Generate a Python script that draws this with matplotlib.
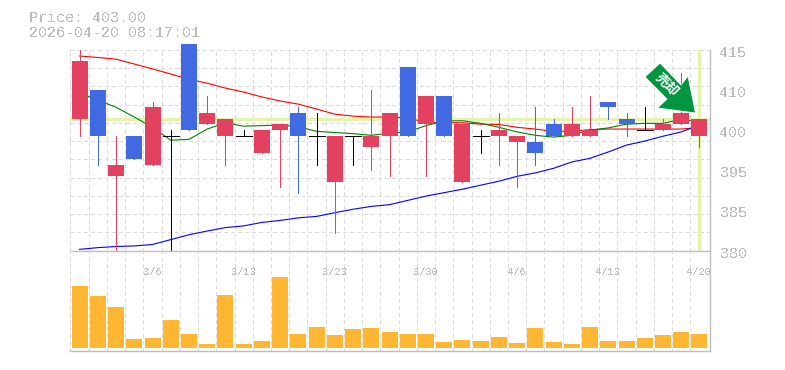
import matplotlib
matplotlib.use("Agg")
import matplotlib.pyplot as plt
from matplotlib.patches import Polygon
from matplotlib.transforms import IdentityTransform, ScaledTranslation

W, H = 785, 370

# candle data
body_top = [413, 408, 395, 400, 405, 400, 416, 404, 403, 400, 401, 402, 404, 400, 400, 400, 400, 404,
            412, 407, 407, 402, 400, 401, 400, 399, 402, 402, 401, 406, 403, 401, 402, 404, 403]
body_bot = [403, 400, 393, 396, 395, 400, 401, 402, 400, 400, 397, 401, 400, 400, 392, 400, 398, 400,
            400, 402, 400, 392, 400, 400, 399, 397, 400, 400, 400, 405, 402, 401, 401, 402, 400]
highs = [415, 408, 400, 400, 406, 401, 416, 407, 403, 401, 401, 402, 405, 404, 400, 400, 408, 404,
         412, 407, 407, 402, 401, 404, 400, 405, 403, 405, 407, 406, 404, 405, 403, 411, 403]
lows = [400, 395, 380, 396, 395, 380, 401, 402, 395, 400, 397, 391, 390, 395, 383, 395, 394, 393,
        400, 393, 400, 392, 397, 395, 391, 395, 400, 400, 400, 403, 400, 401, 401, 402, 398]
kinds = ["r", "b", "r", "b", "r", "k", "b", "r", "r", "k", "r", "r", "b", "k", "r", "k", "r", "r",
         "b", "r", "b", "r", "k", "r", "r", "b", "b", "r", "r", "b", "b", "k", "r", "r", "r"]

ma_red = [413.95, 413.7, 413.4, 412.55, 411.7, 410.8, 409.9, 409.2, 408.35, 407.65, 406.8, 406.1,
          405.55, 404.7, 403.8, 403.45, 403.3, 403.3, 403.1, 402.4, 402.3, 402.3, 402.05, 402.0,
          401.5, 401.2, 400.8, 400.8, 401.1, 401.2, 401.2, 401.2, 401.2, 401.2, 401.5]
ma_green = [407.5, 406.25, 405.0, 403.3, 401.5, 399.25, 399.4, 401.2, 402.3, 401.7, 401.8, 401.9,
            401.6, 400.8, 400.6, 400.4, 400.1, 400.5, 400.7, 401.8, 402.6, 402.65, 402.2, 401.5,
            400.7, 400.1, 399.8, 400.1, 401.0, 401.4, 402.05, 402.2, 402.2, 402.9, 402.4]
ma_blue = [380.2, 380.5, 380.7, 380.8, 381.05, 381.9, 382.75, 383.4, 384.0, 384.3, 384.9, 385.25,
           385.7, 385.95, 386.6, 387.2, 387.7, 388.0, 388.75, 389.5, 390.1, 390.7, 391.4, 392.1,
           392.95, 393.55, 394.35, 395.45, 396.1, 397.2, 398.4, 399.1, 399.95, 400.7, 401.9]

volume = [62, 52, 41, 9, 10, 28, 14, 4, 53, 4, 7, 71, 14, 21, 13, 19, 20, 16, 14, 14, 6, 8, 7, 11, 5,
          20, 6, 4, 21, 7, 7, 10, 13, 16, 14]

price_ticks = [380, 387, 394, 401, 408, 415]
price_labels = ["380", "385", "395", "400", "410", "415"]
date_pos = [4, 9, 14, 19, 24, 29, 34]
date_labels = ["3/6", "3/13", "3/23", "3/30", "4/6", "4/13", "4/20"]
last_price = 403
title_lines = ["Price: 403.00", "2026-04-20 08:17:01"]

colors = {"r": "#e2425f", "b": "#4169e1", "k": "#000000"}
GRID = "#dcdcdc"
AXIS = "#bdbdbd"
TXT = "#bcbcbc"
LIME = "#e4f5ab"
ARROW = "#00963f"
PX = 0.72  # one pixel in points at dpi 100
DASH = (0, (4, 3))

plt.rcParams["font.family"] = ["Liberation Mono", "Noto Sans CJK JP"]
plt.rcParams["text.antialiased"] = False

fig = plt.figure(figsize=(W / 100, H / 100), dpi=100)
left, right = 70 / W, 710 / W
ax = fig.add_axes([left, 1 - 250.5 / H, right - left, 200.5 / H])
vol = fig.add_axes([left, 1 - 350.5 / H, right - left, 100 / H])

xlim = (-0.527, 34.58)
n_grid = 35

for a in (ax, vol):
    a.set_xlim(*xlim)
    for s in a.spines.values():
        s.set_visible(False)
    a.tick_params(length=0)
    a.patch.set_alpha(0)
    for k in range(n_grid):
        a.axvline(k - 0.5, color=GRID, lw=PX, ls=DASH, zorder=1, clip_on=False, antialiased=False)

ax.set_ylim(380, 415)
for k in range(1, 12):
    ax.axhline(380 + k * 35 / 11, color=GRID, lw=PX, ls=DASH, zorder=1, antialiased=False)

# last price cross-hair
ax.axhline(last_price, color=LIME, lw=2.1, zorder=2, antialiased=False)
ax.axvline(34, color=LIME, lw=2.1, zorder=2, antialiased=False)

# moving averages under the candles
xs = list(range(len(ma_red)))
ax.plot(xs, ma_red, color="#ff0000", lw=0.8, zorder=3)
ax.plot(xs, ma_green, color="#008000", lw=0.8, zorder=3)
ax.plot(xs, ma_blue, color="#0000ff", lw=0.8, zorder=3)

for i in range(len(kinds)):
    c = colors[kinds[i]]
    ax.plot([i, i], [lows[i], highs[i]], color=c, lw=PX, zorder=4, clip_on=False, antialiased=False,
            solid_capstyle="butt")
    if kinds[i] == "k":
        ax.plot([i - 0.44, i + 0.44], [body_top[i], body_top[i]], color=c, lw=PX, zorder=4,
                antialiased=False, solid_capstyle="butt")
    else:
        ax.bar(i, body_top[i] - body_bot[i], bottom=body_bot[i], width=0.878, color=c, zorder=5,
               clip_on=False, antialiased=False, linewidth=0)

vol.bar(range(len(volume)), volume, width=0.878, color="#ffb733", zorder=3, antialiased=False,
        linewidth=0)
vol.set_ylim(-2.5, 97.5)

# frame lines
ax.axhline(380, color=AXIS, lw=1, zorder=6, clip_on=False)
vol.axhline(-2.5, color=AXIS, lw=1, zorder=6, clip_on=False)
for a in (ax, vol):
    a.axvline(xlim[1], color=AXIS, lw=1, zorder=6, clip_on=False)

ax.yaxis.tick_right()
ax.set_yticks(price_ticks)
ax.set_yticklabels(price_labels, fontsize=10.8, color=TXT, va="center")
ax.tick_params(axis="y", pad=7)
up = ScaledTranslation(0, -3 / 100, fig.dpi_scale_trans)
for lab in ax.get_yticklabels():
    lab.set_transform(lab.get_transform() + up)
ax.set_xticks([])
vol.set_yticks([])
vol.xaxis.tick_top()
vol.set_xticks(date_pos)
vol.set_xticklabels(date_labels, fontsize=7.6, color=TXT, va="top")
vol.tick_params(axis="x", pad=-12)

fig.text(29 / W, 1 - 18 / H, title_lines[0], fontsize=10.8, color=TXT, va="center", ha="left")
fig.text(29 / W, 1 - 33 / H, title_lines[1], fontsize=10.8, color=TXT, va="center", ha="left")


def px(x, y):
    return (x, H - y)


# green marker arrow, in screen pixels
outline = [(645, 77), (660, 63), (681, 85), (688, 76), (695.5, 113), (657.5, 108), (667, 99)]
arrow = Polygon([px(x, y) for x, y in outline], closed=True, facecolor=ARROW, edgecolor="white",
                lw=0.6, transform=IdentityTransform(), zorder=8, clip_on=False)
fig.add_artist(arrow)
fig.text(667 / W, 1 - 85 / H, "売却", fontsize=9.6, color="white", rotation=-45, ha="center", va="center",
         fontweight="bold", family=["Noto Sans CJK JP", "DejaVu Sans"], zorder=9, antialiased=True)

fig.savefig("out.png", dpi=100)
